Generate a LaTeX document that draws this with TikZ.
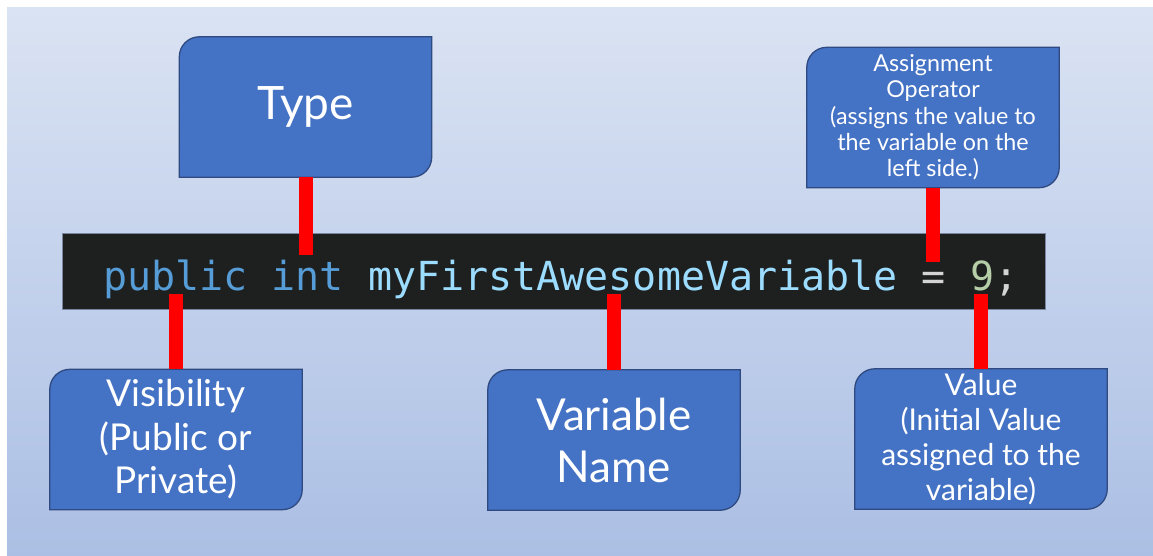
\documentclass[tikz,border=0pt]{standalone}
\usepackage{fontspec}
\setsansfont{Lato}
\setmonofont{DejaVu Sans Mono}
\usetikzlibrary{backgrounds}
\definecolor{tagblue}{HTML}{4472C4}
\definecolor{tagedge}{HTML}{2F4A80}
\definecolor{bgtop}{HTML}{DAE3F3}
\definecolor{bgbottom}{HTML}{ABBFE4}
\definecolor{editor}{HTML}{1E1F1F}
\definecolor{editoredge}{HTML}{7A86A0}
\definecolor{kwblue}{HTML}{569CD6}
\definecolor{idblue}{HTML}{9CDCFE}
\definecolor{opgray}{HTML}{D4D4D4}
\definecolor{numgreen}{HTML}{B5CEA8}
\tikzset{
    tag/.style={align=center, text=white, inner sep=0pt, minimum width=252pt, minimum height=140pt},
    tagframe/.style={fill=tagblue, draw=tagedge, line width=1.3pt},
    editorbar/.style={fill=editor, draw=editoredge, line width=0.8pt, minimum width=983pt, minimum height=76pt, inner sep=0pt},
    link/.style={draw=red, line width=14pt}
}

\begin{document}
\begin{tikzpicture}[x=1pt, y=-1pt]
    \useasboundingbox (0,0) rectangle (1153,556);

    % the line of code
    \node (code) [editorbar] at (553.5,271) {};
    \node (line) [anchor=base west, inner sep=0pt, font=\ttfamily\fontsize{40}{48}\selectfont] at (103,290)
        {\textcolor{kwblue}{public int} \textcolor{idblue}{myFirstAwesomeVariable} \textcolor{opgray}{=} \textcolor{numgreen}{9}\textcolor{opgray}{;}};

    % labels above and below
    \node (type) [tag, font=\sffamily\fontsize{46}{54}\selectfont] at (305.5,107) {Type};
    \node (assign) [tag, font=\sffamily\fontsize{23.3}{26.3}\selectfont] at (933,117.5)
        {Assignment\\Operator\\(assigns the value to\\the variable on the\\left side.)};
    \node (visib) [tag, font=\sffamily\fontsize{37}{43.5}\selectfont] at (176,439.5)
        {Visibility\\(Public or\\Private)};
    \node (varname) [tag, font=\sffamily\fontsize{44}{52}\selectfont] at (614,440)
        {Variable\\Name};
    \node (value) [tag, font=\sffamily\fontsize{30}{35}\selectfont] at (981,439)
        {Value\\(Initial Value\\assigned to the\\variable)};

    % where the red bars stop inside the code line
    \coordinate (typetip) at (305.5,255);
    \coordinate (optip) at (933,262);
    \coordinate (lowtip) at (0,294);

    \draw [link] (type.south) -- (typetip);
    \draw [link] (assign.south) -- (optip);
    \draw [link] (visib.north) -- (visib.north |- lowtip);
    \draw [link] (varname.north) -- (varname.north |- lowtip);
    \draw [link] (value.north) -- (value.north |- lowtip);

    \begin{pgfonlayer}{background}
        \shade [top color=bgtop, bottom color=bgbottom] (7,8) rectangle (1153,556);
        % boxes with two rounded corners
        \foreach \t in {type, assign, visib, varname, value}
            \filldraw [tagframe] ([yshift=-20pt]\t.north west) arc[start angle=180, end angle=90, radius=20pt]
                -- (\t.north east) -- ([yshift=20pt]\t.south east) arc[start angle=0, end angle=-90, radius=20pt]
                -- (\t.south west) -- cycle;
    \end{pgfonlayer}
\end{tikzpicture}
\end{document}
